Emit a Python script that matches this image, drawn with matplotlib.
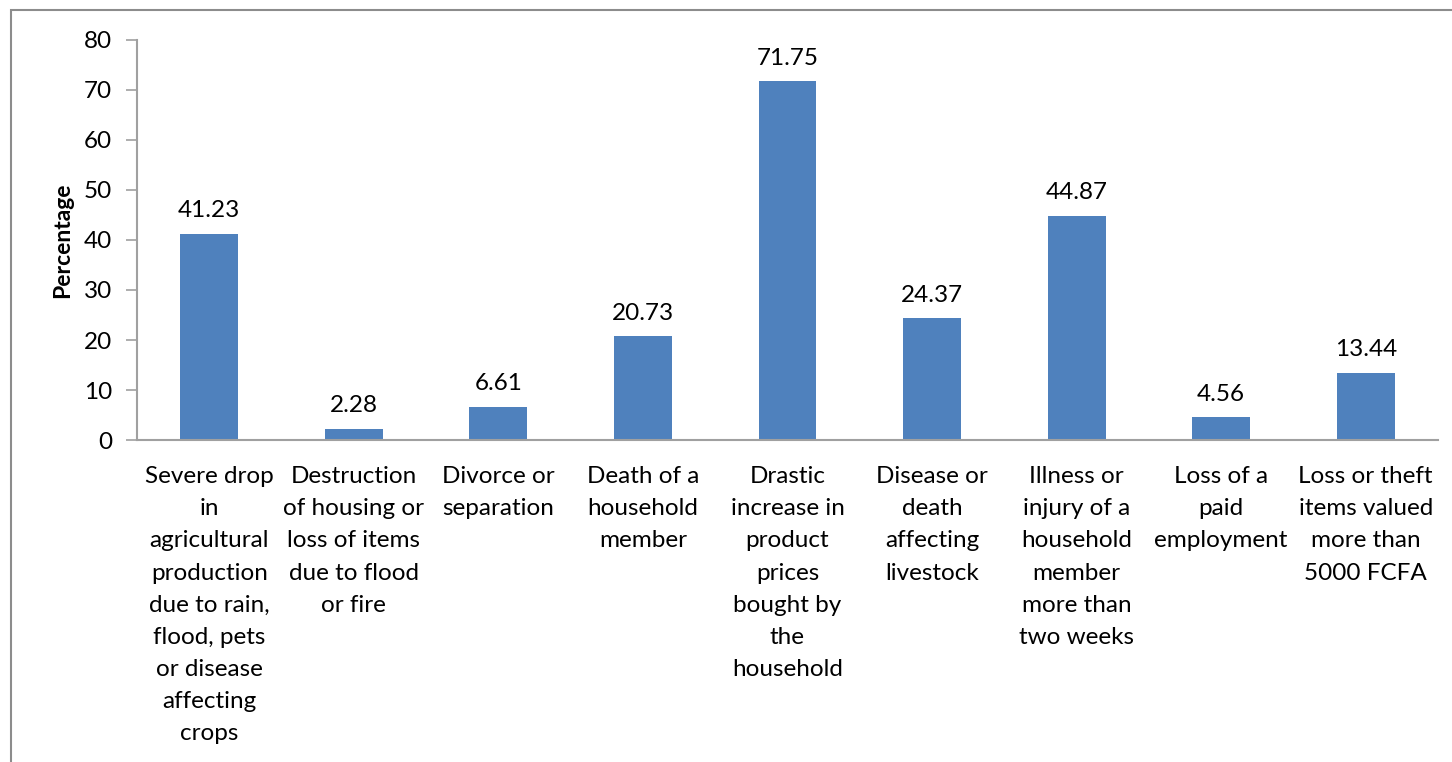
import matplotlib.pyplot as plt
from matplotlib.patches import Rectangle

# ----------------------------------------------------------------------
# DATA
# ----------------------------------------------------------------------

categories = [
    "Severe drop\nin\nagricultural\nproduction\ndue to rain,\nflood, pets\nor disease\naffecting\ncrops",
    "Destruction\nof housing or\nloss of items\ndue to flood\nor fire",
    "Divorce or\nseparation",
    "Death of a\nhousehold\nmember",
    "Drastic\nincrease in\nproduct\nprices\nbought by\nthe\nhousehold",
    "Disease or\ndeath\naffecting\nlivestock",
    "Illness or\ninjury of a\nhousehold\nmember\nmore than\ntwo weeks",
    "Loss of a\npaid\nemployment",
    "Loss or theft\nitems valued\nmore than\n5000 FCFA",
]
percentages = [41.23, 2.28, 6.61, 20.73, 71.75, 24.37, 44.87, 4.56, 13.44]
y_ticks = [0, 10, 20, 30, 40, 50, 60, 70, 80]

BAR_COLOR = "#4F81BD"
AXIS_COLOR = "#A0A0A0"
FONT = "Lato"
FS = 17.5

# ----------------------------------------------------------------------
# PLOT
# ----------------------------------------------------------------------

W, H = 1452, 762
fig = plt.figure(figsize=(W / 100, H / 100), dpi=100)
ax = fig.add_axes([137 / W, 1 - 440 / H, (1438 - 137) / W, 400 / H])

x = list(range(len(categories)))
ax.bar(x, percentages, width=0.4, color=BAR_COLOR, zorder=2)

for xi, v in zip(x, percentages):
    ax.annotate(f"{v:.2f}", (xi, v), xytext=(0, 9), textcoords="offset points",
                ha="center", va="bottom", fontsize=FS, family=FONT)

ax.set_xlim(-0.5, len(categories) - 0.5)
ax.set_ylim(0, 80)
ax.set_yticks(y_ticks)
ax.set_yticklabels([str(t) for t in y_ticks], fontsize=FS, family=FONT)
ax.set_xticks(x)
ax.set_xticklabels(categories, fontsize=FS, family=FONT, linespacing=1.65)
ax.tick_params(axis="x", length=0, pad=19)
ax.tick_params(axis="y", length=8, width=1.2, color=AXIS_COLOR, pad=10)

for side in ["top", "right"]:
    ax.spines[side].set_visible(False)
for side in ["left", "bottom"]:
    ax.spines[side].set_color(AXIS_COLOR)
    ax.spines[side].set_linewidth(1.5)

ax.set_ylabel("Percentage", fontsize=16.5, family=FONT, fontweight="bold")
ax.yaxis.set_label_coords(-0.049, 0.5)

# outer chart frame (cropped at right and bottom)
frame = Rectangle((11 / W, -0.05), 1.2, 1 - 10 / H + 0.05, transform=fig.transFigure,
                  fill=False, edgecolor="#8C8C8C", linewidth=1.5)
fig.patches.append(frame)

fig.savefig("out.png", dpi=100)
